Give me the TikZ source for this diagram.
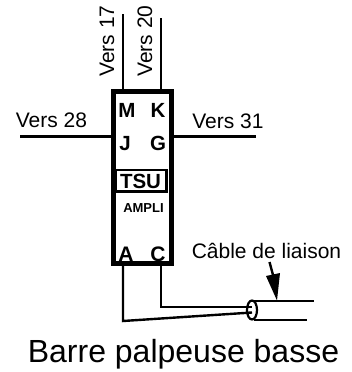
\documentclass[tikz,border=0pt]{standalone}
\usepackage{fontspec}
\usetikzlibrary{shapes.geometric}
\setmainfont{Liberation Sans}
\tikzset{
  px/.style={x=1pt,y=-1pt},
  wire/.style={line width=2.4pt,line join=miter},
  lbl/.style={inner sep=0pt,font=\fontsize{21}{24}\selectfont},
  pin/.style={inner sep=0pt,anchor=base,font=\fontsize{20.5}{22}\selectfont\bfseries},
  bigpin/.style={inner sep=0pt,anchor=base,font=\fontsize{21}{22}\selectfont\bfseries},
}
\begin{document}
\begin{tikzpicture}[px]
\useasboundingbox (0,0) rectangle (351,372);
\fill[white] (0,0) rectangle (351,372);
% main box
\node[draw,line width=5pt,minimum width=58pt,minimum height=172.4pt,inner sep=0pt] (box) at (142,177.5) {};
\node[draw,line width=2.6pt,minimum width=50.5pt,minimum height=21.7pt,inner sep=0pt] (tsu) at (141.3,180.8) {};
\node[inner sep=0pt,anchor=base,font=\fontsize{20.5}{22}\selectfont\bfseries] (tsut) at (140.5,188) {TSU};
\node[inner sep=0pt,anchor=base,font=\fontsize{13}{15}\selectfont\bfseries] (ampli) at (143.5,212) {AMPLI};
\node[pin] (m) at (127,117) {M};
\node[pin] (k) at (158,117) {K};
\node[pin] (j) at (125,150) {J};
\node[pin] (g) at (158,150) {G};
\node[bigpin] (a) at (126,261) {A};
\node[bigpin] (c) at (158,261) {C};
% labels
\node[lbl,rotate=90,anchor=base west] (v17) at (114,77) {Vers 17};
\node[lbl,rotate=90,anchor=base west] (v20) at (152,77) {Vers 20};
\node[lbl,anchor=base] (v28) at (51.5,127) {Vers 28};
\node[lbl,anchor=base] (v31) at (228,128) {Vers 31};
\node[inner sep=0pt,anchor=base,font=\fontsize{21}{24}\selectfont] (cab) at (266.5,258) {Câble de liaison};
\node[inner sep=0pt,anchor=base,font=\fontsize{32}{34}\selectfont] (barre) at (183.5,362) {Barre palpeuse basse};
% cable end
\node[draw,ellipse,line width=2.2pt,fill=white,minimum width=10pt,minimum height=19pt,inner sep=0pt] (h) at (252,310) {};
% free ends
\coordinate (t17) at (123,14);
\coordinate (t20) at (161,18);
\coordinate (l28) at (20,136.5);
\coordinate (r31) at (256,136.5);
\coordinate (pa) at (123,266);
\coordinate (ca) at (123,321);
\coordinate (ea) at (252,312.5);
\coordinate (pc) at (161,266);
\coordinate (cc) at (161,307);
\coordinate (ec) at (252,307);
\coordinate (ct1) at (250,300.7);
\coordinate (ct2) at (314,300.7);
\coordinate (cb1) at (254,320);
\coordinate (cb2) at (307,320);
\coordinate (ar1) at (269.5,262);
\coordinate (arb) at (273,275);
\coordinate (ar2) at (277,300.5);
% wires
\draw[wire] (t17) -- (t17 |- box.north);
\draw[wire] (t20) -- (t20 |- box.north);
\draw[wire] (l28) -- (l28 -| box.west);
\draw[wire] (r31) -- (r31 -| box.east);
\draw[wire] (pa |- box.south) -- (ca) -- (ea);
\draw[wire] (pc |- box.south) -- (cc) -- (ec);
\draw[wire] (ct1) -- (ct2);
\draw[wire] (cb1) -- (cb2);
% arrow
\draw[line width=2.4pt] (ar1) -- (arb);
\fill (ar2) -- (266,276) -- (280,273) -- cycle;
\end{tikzpicture}
\end{document}
